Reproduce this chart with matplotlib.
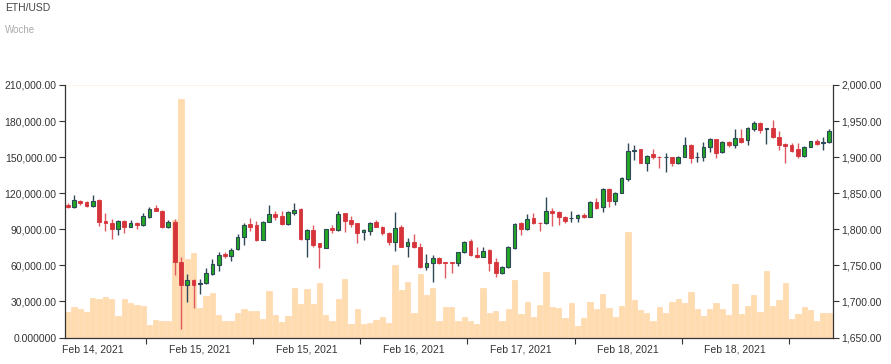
import matplotlib
matplotlib.use("Agg")
import matplotlib.pyplot as plt
from matplotlib.ticker import FixedLocator, FuncFormatter, NullFormatter

plt.rcParams['font.family'] = ['Liberation Sans', 'DejaVu Sans']

# ---- data ----
opens = [1834, 1831, 1839.7, 1838.3, 1832.3, 1840.6, 1811.5, 1809.2, 1800.8, 1811.5,
         1803.6, 1809.2, 1806, 1817.5, 1829, 1825.8, 1802.7, 1810.6, 1755.1, 1722.8,
         1729.7, 1724, 1725.1, 1738, 1750.5, 1765.5, 1763, 1772.2, 1788.8, 1806.8,
         1805.9, 1785.1, 1810.6, 1820.7, 1818.9, 1807.3, 1823, 1827.6, 1786.1, 1799,
         1780.5, 1774.5, 1802.2, 1799, 1822.1, 1812.9, 1808.2, 1796.2, 1798.1, 1810.6,
         1803.6, 1795.3, 1782.8, 1802.7, 1776.8, 1782.8, 1775.9, 1747.3, 1753.7, 1759.7,
         1754, 1754, 1752.8, 1768, 1784.2, 1764.4, 1762, 1771.3, 1755.1, 1739,
         1747.3, 1773.6, 1809.2, 1799.9, 1816.1, 1809.2, 1808.2, 1825.3, 1824.4, 1817.5,
         1815.2, 1815.2, 1819.8, 1817.5, 1838.3, 1830.4, 1856.3, 1839.7, 1850.8, 1869.2,
         1908.9, 1910.8, 1892.3, 1904.3, 1900.6, 1899.7, 1899.7, 1891.4, 1900.6, 1916.8,
         1899.7, 1900.6, 1914.5, 1924.7, 1907.1, 1921.4, 1916.8, 1926, 1923.7, 1938.5,
         1946.8, 1939.4, 1939.9, 1928.4, 1918.2, 1916.8, 1910.8, 1901.6, 1914.5, 1922.4,
         1919.1, 1920.5]
highs = [1837, 1848, 1840.6, 1839, 1847.5, 1841.5, 1823, 1813.8, 1813, 1813,
         1813, 1810, 1822, 1830.4, 1834, 1826.7, 1813, 1813.8, 1762, 1738,
         1730.7, 1730.6, 1745.9, 1758.3, 1769, 1769, 1773.6, 1793.4, 1809.2, 1815.2,
         1811.9, 1811.5, 1833.7, 1825.3, 1825.3, 1825.3, 1836, 1829, 1799.9, 1805.9,
         1781.5, 1800.8, 1805.9, 1825.8, 1823, 1818.4, 1809.2, 1799.9, 1810.6, 1812.9,
         1804.5, 1796.2, 1824.4, 1805.9, 1787.4, 1793.4, 1781.4, 1765.7, 1764.3, 1762,
         1754.2, 1754.2, 1769, 1784.2, 1786.1, 1775.9, 1775.9, 1772.2, 1759.7, 1749.1,
         1776.8, 1808.2, 1810.6, 1821.2, 1823, 1810.1, 1844.3, 1830, 1825.3, 1818.4,
         1825.8, 1821.2, 1823, 1839.7, 1842.9, 1856.8, 1857.2, 1852.1, 1872, 1919.1,
         1916.8, 1911.7, 1903, 1910.8, 1901.6, 1906.2, 1900.6, 1901.6, 1927.4, 1917.7,
         1907.6, 1921.4, 1926, 1925.6, 1922.4, 1922.4, 1938.5, 1938.5, 1941.3, 1950.1,
         1948.2, 1940, 1951.5, 1936.7, 1919.1, 1920, 1920, 1915.4, 1922.8, 1925.1,
         1927.4, 1938.5]
lows = [1830, 1830, 1833.2, 1831.3, 1831.3, 1805, 1798, 1787, 1791.6, 1794.4,
        1802.7, 1801, 1804.6, 1815.6, 1825.3, 1801.8, 1802, 1736.6, 1661.3, 1699.6,
        1690.5, 1710, 1724.2, 1736.6, 1742.6, 1759.7, 1756.5, 1771.3, 1778.2, 1798.1,
        1784.2, 1784.6, 1809.6, 1812.9, 1805.9, 1806.4, 1819.8, 1785.1, 1762, 1775.9,
        1745.9, 1773.6, 1795.3, 1798.1, 1796.7, 1802.7, 1780.5, 1785.1, 1792.1, 1802.7,
        1792.1, 1778.2, 1770.4, 1775, 1761.1, 1773.6, 1745.9, 1743.6, 1727.4, 1751.9,
        1732, 1739, 1749.6, 1766.7, 1763, 1759.7, 1761.1, 1742.6, 1734.3, 1738,
        1745.9, 1772.2, 1792.1, 1799, 1807.3, 1798.1, 1807.3, 1804.5, 1806, 1808.2,
        1810.6, 1810.6, 1815.2, 1816.6, 1827.6, 1824.4, 1831.3, 1833.7, 1849.8, 1867.4,
        1896, 1891.4, 1881.3, 1897.9, 1884.5, 1879.9, 1887.7, 1890.5, 1899.7, 1892.3,
        1893.7, 1894.6, 1907.6, 1898.3, 1906.2, 1914.5, 1912.2, 1919.1, 1916.8, 1936.7,
        1933.9, 1917.7, 1926, 1909.9, 1891.4, 1907.6, 1898.3, 1900.6, 1913.6, 1916.8,
        1909.9, 1919.1]
closes = [1831, 1840.6, 1836.9, 1832.3, 1839.7, 1810.6, 1809.2, 1800, 1811.5, 1803.6,
          1809.2, 1805.5, 1818.4, 1828.6, 1825.8, 1802.7, 1810.6, 1755.1, 1722.8, 1729.7,
          1722.8, 1725.5, 1739, 1751.9, 1764.4, 1763.5, 1771.3, 1788.8, 1805.9, 1803.6,
          1785.1, 1810.6, 1821.2, 1817.5, 1806.9, 1824.4, 1826.7, 1786.1, 1799, 1778.2,
          1775.9, 1799.9, 1799, 1821.2, 1812, 1807.3, 1795.3, 1799, 1809.2, 1803.6,
          1795.3, 1782.8, 1801.3, 1775.9, 1782.8, 1775, 1747.3, 1753.7, 1759.7, 1753.7,
          1752.8, 1752.8, 1768, 1782.8, 1764.4, 1761.1, 1770.4, 1753.7, 1739.9, 1747.3,
          1775.9, 1807.3, 1799.9, 1813.8, 1808.2, 1808.2, 1825.3, 1823, 1816.6, 1812,
          1815.7, 1819.8, 1817.5, 1838.3, 1829, 1855.4, 1839.7, 1850.8, 1870.6, 1909,
          1910, 1892.3, 1901.6, 1899.7, 1899.7, 1900.2, 1891.4, 1900.6, 1916.8, 1898.3,
          1900.6, 1914.5, 1924.7, 1906.2, 1921.4, 1916.8, 1926, 1920.5, 1939.9, 1946.8,
          1937.6, 1939.9, 1927.4, 1916.8, 1915.9, 1909, 1901.6, 1914.5, 1922.4, 1918.2,
          1920.5, 1936.7]
volumes = [20900, 25100, 23400, 21500, 32600, 31700, 33700, 32300, 17900, 31700,
           29000, 27300, 25900, 10700, 14300, 13400, 13400, 97700, 198600, 65300,
           70000, 24800, 34500, 36700, 18700, 13400, 14000, 20100, 23400, 21800,
           22300, 15700, 39000, 18700, 12600, 17900, 40900, 27600, 40100, 27600,
           45000, 18400, 14000, 32300, 48600, 11000, 23400, 11000, 11800, 14600,
           16800, 12300, 60000, 39500, 46200, 20700, 52800, 35300, 40900, 13700,
           25100, 25100, 14000, 16800, 13400, 11200, 40900, 20700, 22300, 14000,
           23400, 47800, 19500, 29800, 16800, 26800, 54200, 25100, 24500, 16200,
           28400, 9600, 16500, 29800, 23400, 36200, 24300, 17300, 26500, 88000,
           31200, 22900, 20700, 13700, 25600, 20100, 29800, 31700, 29000, 38100,
           24000, 17900, 23400, 29000, 23400, 18700, 44200, 19500, 26200, 35300,
           21500, 55700, 26200, 31200, 45000, 15100, 19500, 25600, 22900, 14000,
           20100, 20100]

date_labels = ["Feb 14, 2021", "Feb 15, 2021", "Feb 15, 2021", "Feb 16, 2021",
               "Feb 17, 2021", "Feb 18, 2021", "Feb 18, 2021"]
tick_pos = [12.45 + 17.02 * k for k in range(7)]
label_pos = [t - 8.5 for t in tick_pos]

vol_ticks = [0, 30000, 60000, 90000, 120000, 150000, 180000, 210000]
price_ticks = [1650, 1700, 1750, 1800, 1850, 1900, 1950, 2000]

# ---- styling ----
UP_FACE = '#22a822'
UP_EDGE = '#2f4858'
DN_FACE = '#d6343a'
DN_WICK = '#de5a60'
VOL_COLOR = '#ffdbb0'
AX_COLOR = '#333333'

fig = plt.figure(figsize=(8.91, 3.64), dpi=100)
ax = fig.add_axes([65 / 891, 1 - 337.5 / 364, 768 / 891, 252.5 / 364])
ax2 = ax.twinx()

x = list(range(len(opens)))
ax.bar(x, volumes, width=0.84, color=VOL_COLOR, edgecolor='#ffd39e', linewidth=0.4, zorder=2)
ax.axhline(210000, color='#fdf0e2', linewidth=1.2, zorder=1)

for i in x:
    o, h, l, c = opens[i], highs[i], lows[i], closes[i]
    up = c >= o
    wick_c = UP_EDGE if up else DN_WICK
    ax2.vlines(i, l, h, color=wick_c, linewidth=1.0, zorder=3)
    bottom = min(o, c)
    height = max(abs(c - o), 0.6)
    if up:
        ax2.bar(i, height, bottom=bottom, width=0.6, color=UP_FACE,
                edgecolor=UP_EDGE, linewidth=0.8, zorder=4)
    else:
        ax2.bar(i, height, bottom=bottom, width=0.6, color=DN_FACE,
                edgecolor=DN_FACE, linewidth=0.6, zorder=4)

ax.set_xlim(-0.42, 121.58)
ax.set_ylim(0, 210000)
ax2.set_ylim(1650, 2000)

ax.yaxis.set_major_locator(FixedLocator(vol_ticks))
ax.yaxis.set_major_formatter(FuncFormatter(lambda v, p: "0.000000" if v == 0 else f"{v:,.2f}"))
ax2.yaxis.set_major_locator(FixedLocator(price_ticks))
ax2.yaxis.set_major_formatter(FuncFormatter(lambda v, p: f"{v:,.2f}"))

ax.xaxis.set_major_locator(FixedLocator(tick_pos))
ax.xaxis.set_major_formatter(NullFormatter())
ax.xaxis.set_minor_locator(FixedLocator(label_pos))
ax.set_xticklabels(date_labels, minor=True)
ax.tick_params(axis='x', which='minor', length=0, pad=5, labelsize=7.5, labelcolor=AX_COLOR)
ax.tick_params(axis='x', which='major', length=4, width=0.8, color=AX_COLOR)

ax.tick_params(axis='y', length=4, width=0.8, color=AX_COLOR, labelsize=7.5, labelcolor=AX_COLOR, pad=2)
ax2.tick_params(axis='y', length=4, width=0.8, color=AX_COLOR, labelsize=7.5, labelcolor=AX_COLOR, pad=2)

for a in (ax, ax2):
    a.spines['top'].set_visible(False)
    for s in ('left', 'right', 'bottom'):
        a.spines[s].set_color(AX_COLOR)
        a.spines[s].set_linewidth(0.9)
ax.spines['right'].set_visible(False)
ax2.spines['left'].set_visible(False)
ax2.spines['bottom'].set_visible(False)

fig.text(5 / 891, 1 - 3 / 364, "ETH/USD", fontsize=7.5, color='#444444', va='top', ha='left')
fig.text(5 / 891, 1 - 25 / 364, "Woche", fontsize=7, color='#aaaaaa', va='top', ha='left')

fig.savefig("out.png", dpi=100)
